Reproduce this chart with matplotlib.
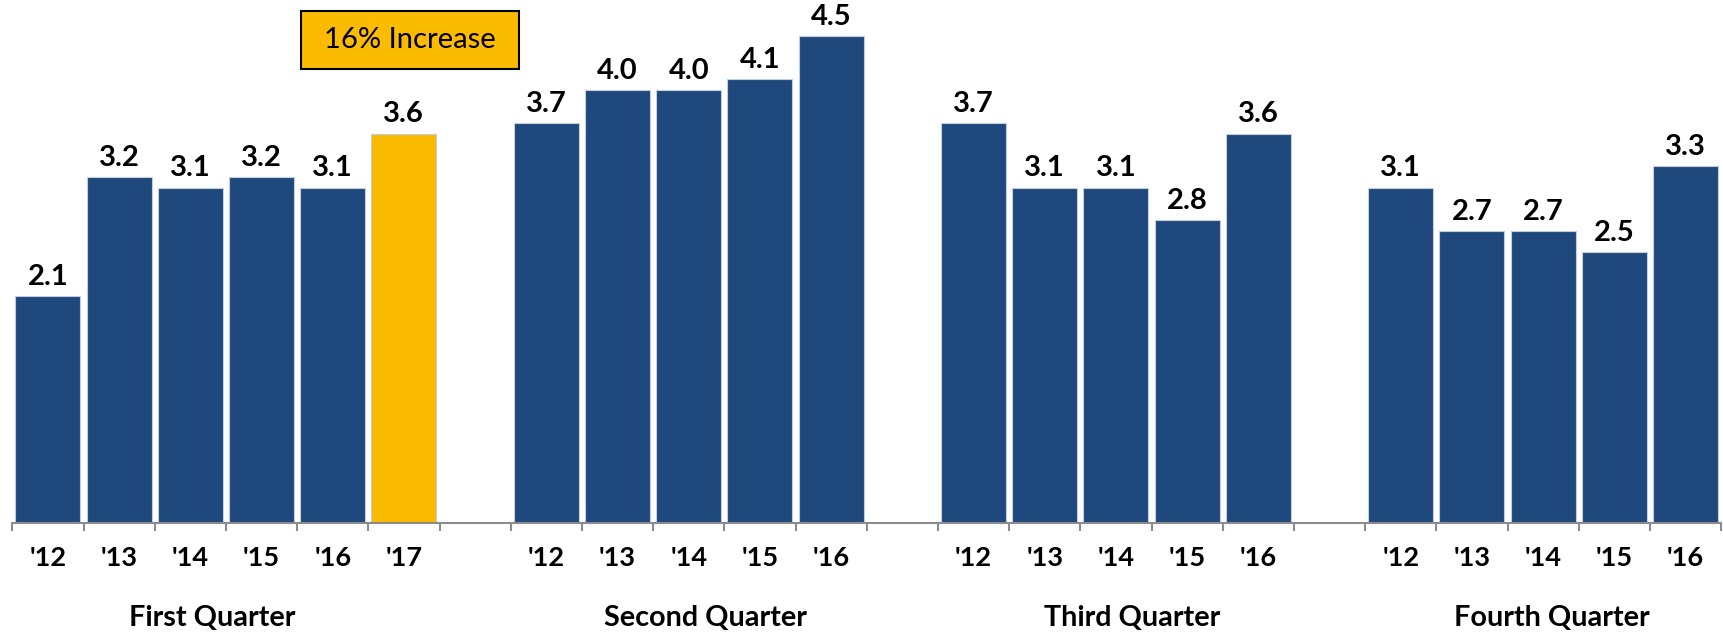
import numpy as np
import matplotlib
matplotlib.use('Agg')
import matplotlib.pyplot as plt
from matplotlib import transforms
from matplotlib.patches import Rectangle

plt.rcParams['font.family'] = ['Lato', 'DejaVu Sans']

# data
quarters = ['First Quarter', 'Second Quarter', 'Third Quarter', 'Fourth Quarter']
years = [["'12", "'13", "'14", "'15", "'16", "'17"],
         ["'12", "'13", "'14", "'15", "'16"],
         ["'12", "'13", "'14", "'15", "'16"],
         ["'12", "'13", "'14", "'15", "'16"]]
q1_vals = [2.1, 3.2, 3.1, 3.2, 3.1, 3.6]
q2_vals = [3.7, 4.0, 4.0, 4.1, 4.5]
q3_vals = [3.7, 3.1, 3.1, 2.8, 3.6]
q4_vals = [3.1, 2.7, 2.7, 2.5, 3.3]
highlight = (0, 5)  # first quarter, '17
note = '16% Increase'

navy = '#1F497D'
gold = '#FABB00'

W, H = 1723, 635
fig = plt.figure(figsize=(W / 100, H / 100), dpi=100)
base_y = 522.7
ax = fig.add_axes([12.3 / W, (H - base_y) / H, 24 * 71.2 / W, base_y / H])

# lay groups out with one empty slot between them
positions, heights, colors, labels = [], [], [], []
slot = 0
for qi, vals in enumerate([q1_vals, q2_vals, q3_vals, q4_vals]):
    for yi, v in enumerate(vals):
        positions.append(slot)
        heights.append(v)
        labels.append(years[qi][yi])
        colors.append(gold if (qi, yi) == highlight else navy)
        slot += 1
    slot += 1
n_slots = slot - 1

bars = ax.bar(positions, heights, width=0.913, color=colors,
              edgecolor='#c3cddb', linewidth=0.8)

for x, v in zip(positions, heights):
    ax.annotate(f'{v:.1f}', (x, v), xytext=(0, 8), textcoords='offset points',
                ha='center', va='baseline', fontsize=21, fontweight='bold',
                color='black')

ax.set_xlim(-0.5, n_slots - 0.5)
ax.set_ylim(0, base_y / 108.1)

ax.set_xticks(np.arange(-0.5, n_slots, 1.0))
ax.set_xticklabels([])
ax.set_xticks(positions, minor=True)
ax.set_xticklabels(labels, minor=True, fontsize=19.5, fontweight='bold')
ax.tick_params(axis='x', which='major', length=5.8, width=1.5, color='#8c8c8c')
ax.tick_params(axis='x', which='minor', length=0, pad=17)
ax.set_yticks([])

for s in ['top', 'right', 'left']:
    ax.spines[s].set_visible(False)
ax.spines['bottom'].set_color('#8c8c8c')
ax.spines['bottom'].set_linewidth(1.5)

# quarter names under the groups
trans = transforms.blended_transform_factory(ax.transData, fig.transFigure)
quarter_x = [2.31, 9.24, 15.23, 21.12]
for qx, name in zip(quarter_x, quarters):
    ax.text(qx, 9 / H, name, transform=trans, ha='center', va='baseline',
            fontsize=20.7, fontweight='bold', clip_on=False)

# callout box
fig.patches.append(Rectangle((301 / W, 1 - 69 / H), 218 / W, 58 / H,
                             transform=fig.transFigure, facecolor=gold,
                             edgecolor='black', linewidth=1.5))
fig.text(410 / W, 1 - 40 / H, note, ha='center', va='center', fontsize=21)

fig.savefig('out.png', dpi=100)
